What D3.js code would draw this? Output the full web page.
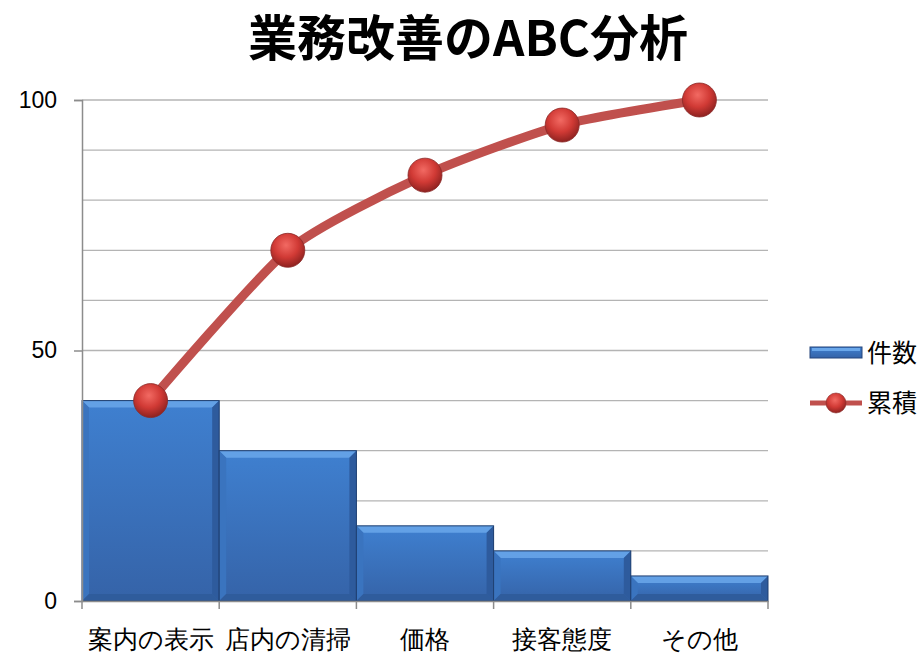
<!DOCTYPE html>
<html lang="ja">
<head>
<meta charset="UTF-8">
<title>業務改善のABC分析</title>
<script src="https://d3js.org/d3.v7.min.js"></script>
<style>
  body { margin: 0; background: #fff; font-family: "Noto Sans CJK JP", "Noto Sans", sans-serif; }
  svg text { fill: #000; }
</style>
</head>
<body>
<svg id="chart" width="923" height="656"></svg>
<script>
// data
const categories = ["案内の表示", "店内の清掃", "価格", "接客態度", "その他"];
const counts = [40, 30, 15, 10, 5];
const cumulative = [40, 70, 85, 95, 100];
const yTicks = [0, 50, 100];
const gridValues = [10, 20, 30, 40, 50, 60, 70, 80, 90, 100];

const svg = d3.select("#chart");
const margin = { top: 100, left: 82, right: 155, bottom: 55 };
const plotW = 923 - margin.left - margin.right;
const plotH = 656 - margin.top - margin.bottom;

const defs = svg.append("defs");
const barGrad = defs.append("linearGradient").attr("id", "barFill")
  .attr("x1", 0).attr("y1", 0).attr("x2", 0).attr("y2", 1);
barGrad.append("stop").attr("offset", "0%").attr("stop-color", "#3f80d0");
barGrad.append("stop").attr("offset", "100%").attr("stop-color", "#3563a8");

const ball = defs.append("radialGradient").attr("id", "ball")
  .attr("cx", "45%").attr("cy", "35%").attr("r", "65%");
ball.append("stop").attr("offset", "0%").attr("stop-color", "#f26a63");
ball.append("stop").attr("offset", "55%").attr("stop-color", "#d13a35");
ball.append("stop").attr("offset", "100%").attr("stop-color", "#8e2220");

const g = svg.append("g").attr("transform", `translate(${margin.left},${margin.top})`);

const x = d3.scaleBand().domain(categories).range([0, plotW]).padding(0);
const y = d3.scaleLinear().domain([0, 100]).range([plotH, 0]);

// gridlines
g.selectAll(".grid").data(gridValues).join("line")
  .attr("x1", 0).attr("x2", plotW)
  .attr("y1", d => y(d)).attr("y2", d => y(d))
  .attr("stroke", "#b4b4b4").attr("stroke-width", 1.3);

// bars with bevel
const bev = 7;
const bars = g.selectAll(".bar").data(counts).join("g")
  .attr("transform", (d, i) => `translate(${x(categories[i])},${y(d)})`);
bars.append("rect")
  .attr("width", x.bandwidth()).attr("height", d => plotH - y(d))
  .attr("fill", "url(#barFill)");
bars.append("path") // top bevel
  .attr("d", d => `M0,0 H${x.bandwidth()} L${x.bandwidth() - bev},${bev} H${bev} Z`)
  .attr("fill", "#6aa7ea").attr("opacity", 0.85);
bars.append("path") // left bevel
  .attr("d", d => `M0,0 L${bev},${bev} V${plotH - y(d) - bev} L0,${plotH - y(d)} Z`)
  .attr("fill", "#3a74bf");
bars.append("path") // right bevel
  .attr("d", d => `M${x.bandwidth()},0 L${x.bandwidth() - bev},${bev} V${plotH - y(d) - bev} L${x.bandwidth()},${plotH - y(d)} Z`)
  .attr("fill", "#2e5b9d");
bars.append("path") // bottom bevel
  .attr("d", d => `M0,${plotH - y(d)} L${bev},${plotH - y(d) - bev} H${x.bandwidth() - bev} L${x.bandwidth()},${plotH - y(d)} Z`)
  .attr("fill", "#2f5c9c");
bars.append("rect")
  .attr("width", x.bandwidth()).attr("height", d => plotH - y(d))
  .attr("fill", "none").attr("stroke", "#1f3f70").attr("stroke-width", 1);

// y axis
const yAxis = g.append("g")
  .call(d3.axisLeft(y).tickValues(yTicks).tickSize(8).tickPadding(17).tickFormat(d3.format("d")));
yAxis.select(".domain").attr("stroke", "#8c8c8c").attr("stroke-width", 1.5);
yAxis.selectAll(".tick line").attr("stroke", "#8c8c8c").attr("stroke-width", 1.5);
yAxis.selectAll("text").attr("font-size", 23).attr("font-family", "Liberation Sans, Arial, sans-serif")
  .attr("fill", "#000");

// x axis
const xAxis = g.append("g").attr("transform", `translate(0,${plotH})`)
  .call(d3.axisBottom(x).tickSize(0).tickPadding(29));
xAxis.select(".domain").attr("stroke", "#8c8c8c").attr("stroke-width", 1.5);
xAxis.selectAll("text").attr("font-size", 25).attr("fill", "#000");
const bounds = categories.map(c => x(c)).concat([plotW]);
xAxis.selectAll(".bnd").data(bounds).join("line")
  .attr("x1", d => d).attr("x2", d => d).attr("y1", 0).attr("y2", 8)
  .attr("stroke", "#8c8c8c").attr("stroke-width", 1.5);

// cumulative line
const cx = (d, i) => x(categories[i]) + x.bandwidth() / 2;
const line = d3.line().x(cx).y(d => y(d)).curve(d3.curveCardinal.tension(0.35));
g.append("path").datum(cumulative)
  .attr("d", line).attr("fill", "none")
  .attr("stroke", "#c0504d").attr("stroke-width", 9).attr("stroke-linecap", "round");
g.selectAll(".pt").data(cumulative).join("circle")
  .attr("cx", cx).attr("cy", d => y(d)).attr("r", 17)
  .attr("fill", "url(#ball)").attr("stroke", "#8a2a28").attr("stroke-width", 0.8);

// title
svg.append("text").attr("x", 468).attr("y", 56).attr("text-anchor", "middle")
  .attr("font-size", 49).attr("font-weight", "bold").text("業務改善のABC分析");

// legend
const lg = svg.append("g").attr("transform", "translate(810,347)");
lg.append("rect").attr("width", 52).attr("height", 11).attr("fill", "url(#barFill)").attr("stroke", "#24457a");
lg.append("rect").attr("x", 2).attr("y", 1).attr("width", 48).attr("height", 3).attr("fill", "#6aa7ea");
lg.append("text").attr("x", 57).attr("y", 15).attr("font-size", 25).text("件数");
lg.append("line").attr("x1", 0).attr("x2", 52).attr("y1", 56).attr("y2", 56)
  .attr("stroke", "#c0504d").attr("stroke-width", 5);
lg.append("circle").attr("cx", 26).attr("cy", 56).attr("r", 10).attr("fill", "url(#ball)")
  .attr("stroke", "#8a2a28").attr("stroke-width", 0.6);
lg.append("text").attr("x", 57).attr("y", 65).attr("font-size", 25).text("累積");
</script>
</body>
</html>
